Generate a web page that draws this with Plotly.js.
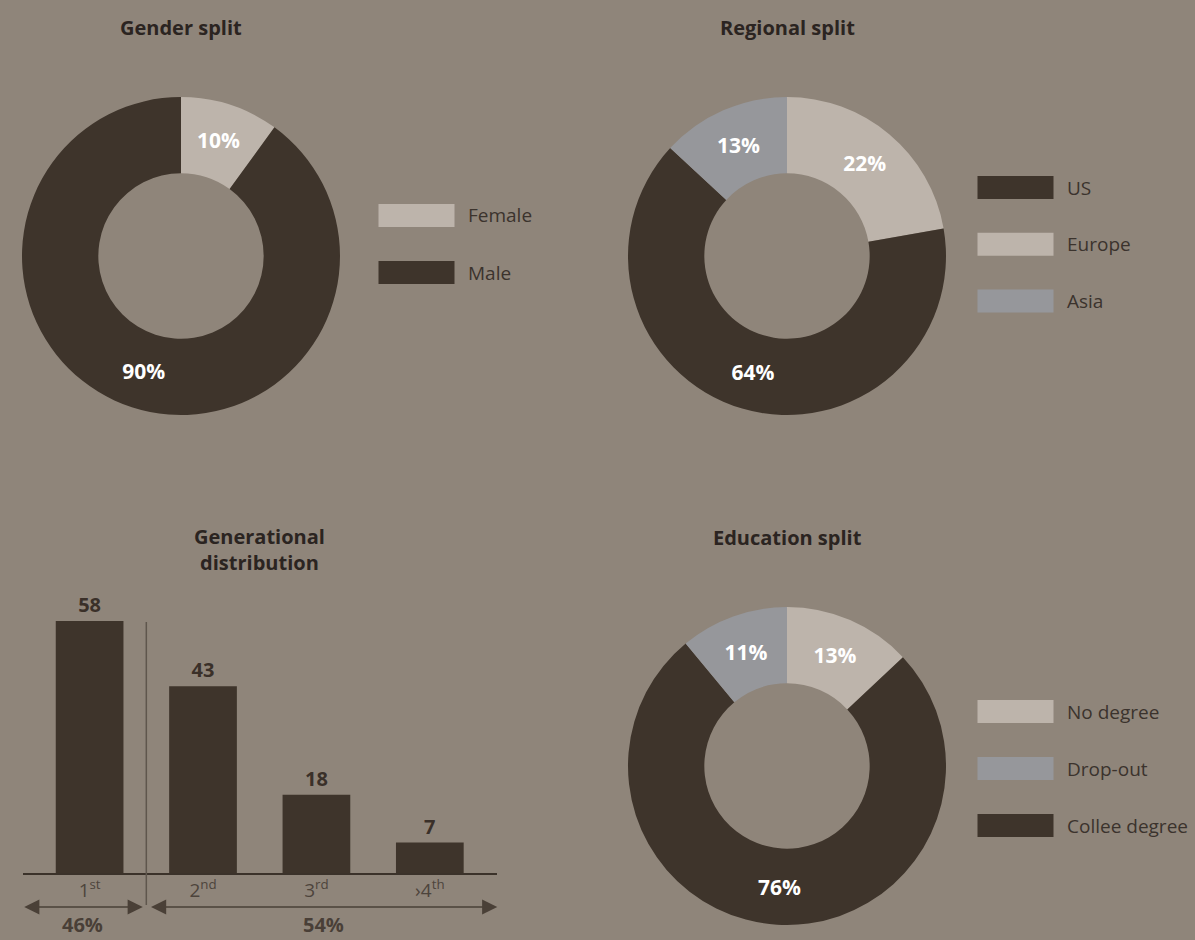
<!DOCTYPE html>
<html>
<head>
<meta charset="utf-8">
<script src="https://cdn.plot.ly/plotly-3.0.1.min.js"></script>
<style>html,body{margin:0;padding:0;background:#8f857a;}#chart{width:1195px;height:940px;}</style>
</head>
<body>
<div id="chart"></div>
<script>
// ---- data ----
const genderLabels = ['Female', 'Male'];
const genderValues = [10, 90];
const genderLegend = ['Female', 'Male'];

const regionLabels = ['Europe', 'US', 'Asia'];
const regionValues = [22, 64, 13];
const regionLegend = ['US', 'Europe', 'Asia'];

const eduLabels = ['No degree', 'Collee degree', 'Drop-out'];
const eduValues = [13, 76, 11];
const eduLegend = ['No degree', 'Drop-out', 'Collee degree'];

const genCategories = ['1st', '2nd', '3rd', '>4th'];
const genValues = [58, 43, 18, 7];
const genTickLabels = ['1<sup>st</sup>', '2<sup>nd</sup>', '3<sup>rd</sup>', '\u203A4<sup>th</sup>'];
const genGroupLabels = ['46%', '54%'];

// ---- styles ----
const W = 1195, H = 940;
const BG = '#8f857a', DARK = '#3e342b', LIGHT = '#bdb4ab', GRAY = '#96979b';
const colorMap = {
  'Female': LIGHT, 'Male': DARK,
  'US': DARK, 'Europe': LIGHT, 'Asia': GRAY,
  'No degree': LIGHT, 'Drop-out': GRAY, 'Collee degree': DARK
};
const FONT = 'Open Sans, Noto Sans, sans-serif';
const X = px => px / W;
const Y = py => 1 - py / H;

function donut(labels, values, box) {
  return {
    type: 'pie', labels: labels, values: values,
    text: values.map(v => v + '%'), textinfo: 'text',
    textposition: 'inside', insidetextorientation: 'horizontal',
    textfont: {family: FONT, size: 21, color: '#ffffff', weight: 'bold'},
    marker: {colors: labels.map(l => colorMap[l]), line: {width: 0}},
    hole: 0.52, sort: false, direction: 'clockwise', rotation: 0,
    domain: {x: [X(box[0]), X(box[1])], y: [Y(box[3]), Y(box[2])]},
    hoverinfo: 'skip', showlegend: false
  };
}

const traces = [
  donut(genderLabels, genderValues, [22, 340, 97, 415]),
  donut(regionLabels, regionValues, [628, 946, 97, 415]),
  donut(eduLabels, eduValues, [628, 946, 607, 925]),
  {
    type: 'bar', x: genCategories, y: genValues,
    marker: {color: DARK, line: {width: 0}}, width: 0.597,
    text: genValues.map(String), textposition: 'outside', cliponaxis: false,
    textfont: {family: FONT, size: 20, color: '#3a3029', weight: 'bold'},
    hoverinfo: 'skip', showlegend: false
  }
];

const annotations = [];
const shapes = [];

function title(text, cx, cy) {
  annotations.push({xref: 'paper', yref: 'paper', x: X(cx), y: Y(cy), xanchor: 'center', yanchor: 'middle',
    text: text, showarrow: false, font: {family: FONT, size: 20, color: '#2b2421', weight: 'bold'}});
}
title('Gender split', 181, 27);
title('Regional split', 787, 27);
title('Education split', 787, 537);
title('Generational<br>distribution', 259, 549);

function legend(items, x0, y0, step) {
  items.forEach((lab, i) => {
    const top = y0 + i * step;
    shapes.push({type: 'rect', xref: 'paper', yref: 'paper', x0: X(x0), x1: X(x0 + 76),
      y0: Y(top + 23), y1: Y(top), fillcolor: colorMap[lab], line: {width: 0}});
    annotations.push({xref: 'paper', yref: 'paper', x: X(x0 + 87), y: Y(top + 11.5),
      xanchor: 'left', yanchor: 'middle', text: lab, showarrow: false,
      font: {family: FONT, size: 19, color: '#3b332d'}});
  });
}
legend(genderLegend, 378.5, 204, 57);
legend(regionLegend, 977.5, 176, 56.7);
legend(eduLegend, 977.5, 700, 57);

// generational group arrows & labels (category index units)
const groups = [[-0.59, 0.469], [0.528, 3.595]];
groups.forEach((g, i) => {
  annotations.push({xref: 'x', yref: 'paper', x: g[1], y: Y(907), axref: 'x', ax: g[0], ayref: 'pixel', ay: 0,
    text: '', showarrow: true, arrowside: 'end+start', arrowhead: 2, startarrowhead: 2,
    arrowsize: 1.9, startarrowsize: 1.9, arrowwidth: 1.6, arrowcolor: '#4a4037', standoff: 0, startstandoff: 0});
  annotations.push({xref: 'x', yref: 'paper', x: (g[0] + g[1]) / 2, y: Y(940), xanchor: 'center', yanchor: 'bottom',
    text: genGroupLabels[i], showarrow: false, font: {family: FONT, size: 20, color: '#493f37', weight: 'bold'}});
});
shapes.push({type: 'line', xref: 'x', yref: 'paper', x0: 0.5, x1: 0.5, y0: Y(905), y1: Y(622),
  line: {color: '#5f564d', width: 1.5}});

const layout = {
  width: W, height: H, margin: {l: 0, r: 0, t: 0, b: 0},
  paper_bgcolor: BG, plot_bgcolor: 'rgba(0,0,0,0)',
  font: {family: FONT, color: '#3b332d'},
  showlegend: false, bargap: 0.4,
  xaxis: {domain: [X(22.7), X(497.3)], range: [-0.59, 3.595], type: 'category',
    showline: true, linecolor: '#3b322a', linewidth: 1.5, ticks: '',
    tickvals: genCategories, ticktext: genTickLabels,
    tickfont: {family: FONT, size: 19, color: '#4d443c'},
    showgrid: false, zeroline: false, fixedrange: true},
  yaxis: {domain: [Y(873), Y(600)], range: [0, 273 / 4.345], visible: false, fixedrange: true},
  annotations: annotations, shapes: shapes
};

Plotly.newPlot('chart', traces, layout, {displayModeBar: false, staticPlot: true});
</script>
</body>
</html>
